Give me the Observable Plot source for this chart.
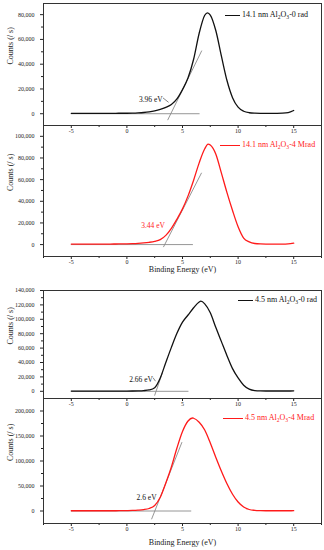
<!DOCTYPE html>
<html><head><meta charset="utf-8">
<script src="https://cdn.jsdelivr.net/npm/d3@7"></script>
<script src="https://cdn.jsdelivr.net/npm/@observablehq/plot@0.6"></script>
<style>
body{margin:0;background:#fff;}
#chart{position:relative;width:324px;height:550px;font-family:"Liberation Serif",serif;overflow:hidden;background:#fff}
#chart svg{position:absolute;left:0}
.leg{position:absolute;display:flex;align-items:center;font-size:8px;line-height:10px;white-space:nowrap}
.leg .sw{display:inline-block;height:0;margin-right:2px}
.leg sub{font-size:0.7em;vertical-align:-0.3em;line-height:0}
</style></head><body><div id="chart"></div>
<script>
// ---- data ----
const xTicks = [-5, 0, 5, 10, 15];
const xMinor = [-7.5, -2.5, 2.5, 7.5, 12.5, 17.5];

const energy1 = [-5,-4.5,-4,-3.5,-3,-2.5,-2,-1.5,-1,-0.5,0,0.5,1,1.5,2,2.5,3,3.5,4,4.5,5,5.5,6,6.5,7,7.25,7.5,8,8.5,9,9.5,10,10.5,11,11.5,12,12.5,13,13.5,14,14.5,15];
const counts1 = [300,300,300,300,300,300,300,350,350,400,400,500,700,1000,1500,2300,3500,5200,7500,12000,19500,29000,44000,65000,79500,81500,79700,67000,46500,26800,13000,5300,2000,800,450,350,350,350,350,450,900,2600];

const energy2 = [-5,-4.5,-4,-3.5,-3,-2.5,-2,-1.5,-1,-0.5,0,0.5,1,1.5,2,2.5,3,3.5,4,4.5,5,5.5,6,6.5,7,7.3,7.5,8,8.5,9,9.5,10,10.5,11,11.5,12,12.5,13,13.5,14,14.5,15];
const counts2 = [500,500,500,500,500,500,500,500,550,600,700,850,1100,1500,2100,3000,4600,8500,15000,23500,33000,45000,59500,75500,88500,92800,92000,83500,66000,48000,31500,16500,6000,2500,1000,600,500,500,500,500,700,1300];

const energy3 = [-5,-4.5,-4,-3.5,-3,-2.5,-2,-1.5,-1,-0.5,0,0.5,1,1.5,2,2.5,3,3.5,4,4.5,5,5.5,6,6.5,6.65,7,7.5,8,8.5,9,9.5,10,10.5,11,11.5,12,12.5,13,13.5,14,14.5,15];
const counts3 = [300,300,300,300,300,300,300,300,300,300,300,400,600,1000,1900,5000,18500,40000,61000,80500,96000,106000,116000,124000,125200,121500,109000,88500,69000,49500,31500,18500,8500,3000,1000,500,400,400,400,400,400,700];

const energy4 = [-5,-4.5,-4,-3.5,-3,-2.5,-2,-1.5,-1,-0.5,0,0.5,1,1.5,2,2.5,3,3.5,4,4.5,5,5.5,5.9,6,6.5,7,7.5,8,8.5,9,9.5,10,10.5,11,11.5,12,12.5,13,13.5,14,14.5,15];
const counts4 = [500,500,500,500,500,500,500,500,500,700,900,1200,1800,2800,5000,11000,27500,56000,88000,126000,159000,180000,186000,185500,177500,162000,136000,107000,79500,54500,33500,18000,8000,3000,1300,700,500,500,500,500,500,600];

// tangent lines (onset extrapolation) and baselines
const tangentX = [[3.68, 6.72], [3.3, 6.7], [2.5, 3.2], [2.23, 4.94]];
const tangentY = [[-4900, 50700], [-2000, 66000], [-5500, 25900], [-15800, 137000]];
const baselineX = [[-5, 6.5], [-5, 5.9], [-5, 5.5], [-5, 5.75]];

// onset labels
const onsetText = ["3.96 eV", "3.44 eV", "2.66 eV", "2.6 eV"];
const onsetX = [3.22, 3.42, 2.34, 2.67];
const onsetY = [11300, 17700, 16200, 27600];
const leaderX = [[3.27, 3.72], null, [2.37, 2.55], null];
const leaderY = [[12600, 9400], null, [18500, 14500], null];

// y scales / ticks
const yDomains = [[-9500, 89000], [-11000, 110000], [-10000, 140000], [-25000, 225000]];
const yTicks = [
  [0, 20000, 40000, 60000, 80000],
  [0, 20000, 40000, 60000, 80000, 100000],
  [0, 20000, 40000, 60000, 80000, 100000, 120000, 140000],
  [0, 50000, 100000, 150000, 200000]
];
const yMinor = [
  [10000, 30000, 50000, 70000],
  [10000, 30000, 50000, 70000, 90000],
  [10000, 30000, 50000, 70000, 90000, 110000, 130000],
  [25000, 75000, 125000, 175000]
];

const legendLabels = [
  "14.1 nm Al<sub>2</sub>O<sub>3</sub>-0 rad",
  "14.1 nm Al<sub>2</sub>O<sub>3</sub>-4 Mrad",
  "4.5 nm Al<sub>2</sub>O<sub>3</sub>-0 rad",
  "4.5 nm Al<sub>2</sub>O<sub>3</sub>-4 Mrad"
];
const yLabel = "Counts (/ s)";
const xLabel = "Binding Energy (eV)";

// ---- layout / styles ----
const energies = [energy1, energy2, energy3, energy4];
const counts = [counts1, counts2, counts3, counts4];
const colors = ["#111", "#ff1a1a", "#111", "#ff1a1a"];
const noteColors = ["#111", "#ff1a1a", "#111", "#111"];
const layout = [
  {top: 0,   height: 140, mt: 3,  mb: 15, xl: null},
  {top: 125, height: 150, mt: 0,  mb: 19, xl: 15},
  {top: 280, height: 135, mt: 10, mb: 17, xl: null},
  {top: 398, height: 152, mt: 0,  mb: 27, xl: 21}
];
const legendPos = [
  {left: 225, top: 10, sw: 15},
  {left: 220, top: 140, sw: 20},
  {left: 238, top: 295, sw: 15},
  {left: 223, top: 413, sw: 20}
];

const chart = document.getElementById("chart");

for (let i = 0; i < 4; i++) {
  const L = layout[i];
  const curve = energies[i].map((e, k) => ({e, c: counts[i][k]}));
  const tan = tangentX[i].map((x, k) => ({x, y: tangentY[i][k]}));
  const base = baselineX[i].map(x => ({x, y: 0}));
  const marks = [
    Plot.axisX({ticks: xTicks, tickSize: 3, tickPadding: 0, fontSize: 6, tickFormat: d => String(d), label: null}),
    Plot.axisX({ticks: xMinor, tickSize: 2, tickFormat: () => "", label: null}),
    Plot.axisY({ticks: yTicks[i], tickSize: 3, tickPadding: 6, fontSize: 6, tickFormat: d3.format(","), label: null}),
    Plot.axisY({ticks: yMinor[i], tickSize: 2, tickFormat: () => "", label: null}),
    Plot.frame({stroke: "#333"}),
    Plot.line(base, {x: "x", y: "y", stroke: "#8a8a8a", strokeWidth: 0.9}),
    Plot.line(tan, {x: "x", y: "y", stroke: "#8a8a8a", strokeWidth: 0.9}),
    Plot.line(curve, {x: "e", y: "c", stroke: colors[i], strokeWidth: 1.3, curve: "monotone-x"}),
    Plot.text([onsetText[i]], {x: () => onsetX[i], y: () => onsetY[i], textAnchor: "end", fontSize: 7.5, fill: noteColors[i]}),
    Plot.text([yLabel], {frameAnchor: "left", rotate: -90, dx: -33, fontSize: 8})
  ];
  if (leaderX[i]) {
    const lead = leaderX[i].map((x, k) => ({x, y: leaderY[i][k]}));
    marks.push(Plot.line(lead, {x: "x", y: "y", stroke: "#333", strokeWidth: 0.6}));
  }
  if (L.xl !== null) {
    marks.push(Plot.text([xLabel], {frameAnchor: "bottom", dy: L.xl, fontSize: 8}));
  }
  const svg = Plot.plot({
    width: 324, height: L.height,
    marginLeft: 43, marginRight: 3, marginTop: L.mt, marginBottom: L.mb,
    style: {fontFamily: "Liberation Serif", background: "transparent", overflow: "visible", color: "#222"},
    x: {domain: [-7.5, 17.5]},
    y: {domain: yDomains[i]},
    marks
  });
  svg.style.top = L.top + "px";
  chart.appendChild(svg);

  const P = legendPos[i];
  const leg = document.createElement("div");
  leg.className = "leg";
  leg.style.left = P.left + "px";
  leg.style.top = P.top + "px";
  leg.style.color = colors[i];
  leg.innerHTML = `<span class="sw" style="width:${P.sw}px;border-top:1.3px solid ${colors[i]}"></span><span>${legendLabels[i]}</span>`;
  chart.appendChild(leg);
}
</script>
</body></html>
